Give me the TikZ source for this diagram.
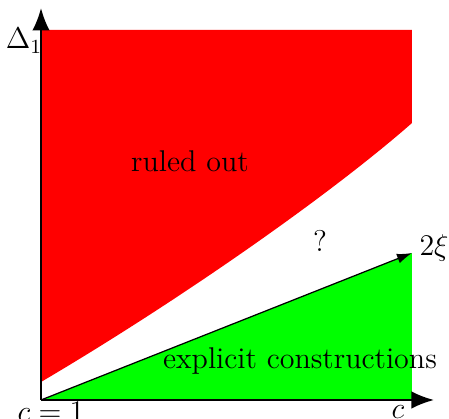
\documentclass[tikz,border=0pt]{standalone}
\usetikzlibrary{arrows.meta}
\definecolor{rred}{RGB}{255,0,0}
\definecolor{ggreen}{RGB}{0,255,0}
\begin{document}
\begin{tikzpicture}[x=0.4pt,y=-0.4pt,
  axis/.style={line width=0.8pt,-{Latex[length=9pt,width=7pt]}},
  lbl/.style={inner sep=0pt,font=\fontsize{12}{14}\selectfont}]
\useasboundingbox (0,0) rectangle (449,419);
\coordinate (O) at (41,400);
\coordinate (Ytop) at (41,8);
\coordinate (Xend) at (434,400);
\coordinate (R1) at (41,30);
\coordinate (R2) at (412,30);
\coordinate (R3) at (412,123);
\coordinate (R4) at (41,382);
\coordinate (G1) at (412,253);
\coordinate (G2) at (412,400);
\fill[rred] (R1) -- (R2) -- (R3) .. controls (330,195) and (180,300) .. (R4) -- cycle;
\fill[ggreen] (O) -- (G1) -- (G2) -- cycle;
\draw[line width=0.5pt,-{Latex[length=6pt,width=4pt]}] (O) -- (G1);
\draw[axis] (O) -- (Ytop);
\draw[axis] (O) -- (Xend);
\node[lbl] (d1) at (24,41) {$\Delta_1$};
\node[lbl] (c1) at (51,412) {$c=1$};
\node[lbl] (c) at (398,412) {$c$};
\node[lbl] (xi) at (434,248) {$2\xi$};
\node[lbl] (q) at (320,241) {?};
\node[lbl] (ro) at (190,161) {ruled out};
\node[lbl] (ec) at (300,361) {explicit constructions};
\end{tikzpicture}
\end{document}
